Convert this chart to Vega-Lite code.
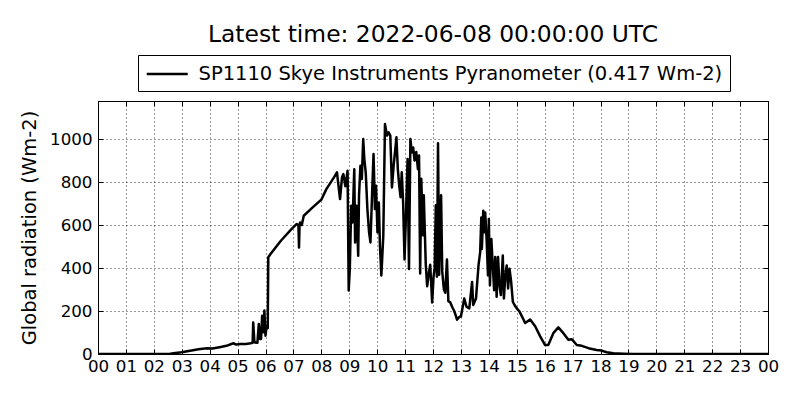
{
  "$schema": "https://vega.github.io/schema/vega-lite/v6.json",
  "autosize": "none",
  "width": 670,
  "height": 253,
  "padding": {"left": 98, "top": 101, "right": 32, "bottom": 46},
  "title": {"text": "Latest time: 2022-06-08 00:00:00 UTC", "fontSize": 23.4, "fontWeight": "normal", "font": "DejaVu Sans", "color": "black", "anchor": "middle", "baseline": "alphabetic", "offset": -11},
  "config": {
    "font": "DejaVu Sans",
    "view": {"stroke": "black", "strokeWidth": 1},
    "axis": {"labelFontSize": 16.7, "labelColor": "black", "titleFontSize": 19.5, "titleFontWeight": "normal", "titleColor": "black", "domainColor": "black", "tickColor": "black", "gridColor": "black", "gridDash": [1, 3], "gridWidth": 1, "gridOpacity": 0.8, "ticks": true, "tickSize": -5, "tickWidth": 1}
  },
  "data": {"values": [
    {"h": 0, "v": 0}, {"h": 1, "v": 0}, {"h": 2, "v": 0}, {"h": 2.55, "v": 0}, {"h": 2.7, "v": 3}, {"h": 3.0, "v": 8}, {"h": 3.3, "v": 15}, {"h": 3.6, "v": 22}, {"h": 3.9, "v": 27}, {"h": 4.1, "v": 26}, {"h": 4.4, "v": 33}, {"h": 4.6, "v": 38}, {"h": 4.85, "v": 50}, {"h": 4.95, "v": 44}, {"h": 5.1, "v": 46}, {"h": 5.3, "v": 47}, {"h": 5.47, "v": 50}, {"h": 5.54, "v": 52}, {"h": 5.56, "v": 147}, {"h": 5.6, "v": 60}, {"h": 5.62, "v": 54}, {"h": 5.71, "v": 52}, {"h": 5.76, "v": 140}, {"h": 5.8, "v": 70}, {"h": 5.84, "v": 70}, {"h": 5.88, "v": 178}, {"h": 5.92, "v": 101}, {"h": 5.96, "v": 202}, {"h": 6.0, "v": 85}, {"h": 6.04, "v": 132}, {"h": 6.08, "v": 120}, {"h": 6.1, "v": 450}, {"h": 6.18, "v": 465}, {"h": 6.55, "v": 527}, {"h": 6.93, "v": 581}, {"h": 7.12, "v": 605}, {"h": 7.18, "v": 600}, {"h": 7.2, "v": 496}, {"h": 7.22, "v": 600}, {"h": 7.24, "v": 612}, {"h": 7.3, "v": 600}, {"h": 7.37, "v": 643}, {"h": 7.69, "v": 682}, {"h": 8.0, "v": 718}, {"h": 8.18, "v": 767}, {"h": 8.47, "v": 825}, {"h": 8.56, "v": 845}, {"h": 8.67, "v": 721}, {"h": 8.74, "v": 822}, {"h": 8.79, "v": 837}, {"h": 8.86, "v": 780}, {"h": 8.94, "v": 853}, {"h": 8.98, "v": 295}, {"h": 9.02, "v": 395}, {"h": 9.07, "v": 690}, {"h": 9.12, "v": 612}, {"h": 9.16, "v": 783}, {"h": 9.18, "v": 860}, {"h": 9.21, "v": 519}, {"h": 9.26, "v": 690}, {"h": 9.32, "v": 457}, {"h": 9.35, "v": 736}, {"h": 9.4, "v": 876}, {"h": 9.45, "v": 814}, {"h": 9.5, "v": 1000}, {"h": 9.54, "v": 907}, {"h": 9.59, "v": 845}, {"h": 9.65, "v": 674}, {"h": 9.71, "v": 566}, {"h": 9.76, "v": 519}, {"h": 9.82, "v": 752}, {"h": 9.87, "v": 930}, {"h": 9.92, "v": 674}, {"h": 9.96, "v": 783}, {"h": 10.01, "v": 566}, {"h": 10.06, "v": 705}, {"h": 10.1, "v": 500}, {"h": 10.15, "v": 365}, {"h": 10.22, "v": 550}, {"h": 10.28, "v": 1070}, {"h": 10.35, "v": 1016}, {"h": 10.41, "v": 1031}, {"h": 10.47, "v": 1016}, {"h": 10.53, "v": 775}, {"h": 10.59, "v": 876}, {"h": 10.65, "v": 953}, {"h": 10.69, "v": 1008}, {"h": 10.74, "v": 860}, {"h": 10.79, "v": 783}, {"h": 10.84, "v": 729}, {"h": 10.88, "v": 845}, {"h": 10.93, "v": 705}, {"h": 10.98, "v": 440}, {"h": 11.02, "v": 597}, {"h": 11.09, "v": 907}, {"h": 11.14, "v": 395}, {"h": 11.19, "v": 1000}, {"h": 11.24, "v": 938}, {"h": 11.29, "v": 961}, {"h": 11.34, "v": 900}, {"h": 11.4, "v": 940}, {"h": 11.46, "v": 860}, {"h": 11.5, "v": 923}, {"h": 11.54, "v": 375}, {"h": 11.58, "v": 815}, {"h": 11.64, "v": 553}, {"h": 11.67, "v": 738}, {"h": 11.74, "v": 420}, {"h": 11.79, "v": 315}, {"h": 11.86, "v": 384}, {"h": 11.9, "v": 415}, {"h": 11.97, "v": 240}, {"h": 12.02, "v": 360}, {"h": 12.06, "v": 400}, {"h": 12.1, "v": 692}, {"h": 12.14, "v": 360}, {"h": 12.18, "v": 980}, {"h": 12.22, "v": 369}, {"h": 12.29, "v": 738}, {"h": 12.33, "v": 385}, {"h": 12.39, "v": 300}, {"h": 12.44, "v": 285}, {"h": 12.5, "v": 440}, {"h": 12.55, "v": 246}, {"h": 12.62, "v": 240}, {"h": 12.7, "v": 215}, {"h": 12.76, "v": 200}, {"h": 12.82, "v": 177}, {"h": 12.86, "v": 160}, {"h": 12.92, "v": 169}, {"h": 12.97, "v": 175}, {"h": 13.0, "v": 174}, {"h": 13.12, "v": 258}, {"h": 13.2, "v": 220}, {"h": 13.3, "v": 212}, {"h": 13.4, "v": 335}, {"h": 13.44, "v": 228}, {"h": 13.54, "v": 258}, {"h": 13.63, "v": 412}, {"h": 13.69, "v": 474}, {"h": 13.73, "v": 635}, {"h": 13.75, "v": 489}, {"h": 13.8, "v": 666}, {"h": 13.85, "v": 566}, {"h": 13.87, "v": 658}, {"h": 13.92, "v": 535}, {"h": 13.97, "v": 366}, {"h": 14.0, "v": 628}, {"h": 14.04, "v": 320}, {"h": 14.09, "v": 535}, {"h": 14.14, "v": 412}, {"h": 14.19, "v": 297}, {"h": 14.23, "v": 451}, {"h": 14.28, "v": 266}, {"h": 14.33, "v": 451}, {"h": 14.38, "v": 320}, {"h": 14.43, "v": 274}, {"h": 14.5, "v": 458}, {"h": 14.54, "v": 258}, {"h": 14.59, "v": 366}, {"h": 14.64, "v": 412}, {"h": 14.69, "v": 305}, {"h": 14.74, "v": 397}, {"h": 14.8, "v": 335}, {"h": 14.86, "v": 243}, {"h": 14.92, "v": 228}, {"h": 15.0, "v": 212}, {"h": 15.1, "v": 197}, {"h": 15.22, "v": 166}, {"h": 15.3, "v": 144}, {"h": 15.48, "v": 160}, {"h": 15.66, "v": 129}, {"h": 15.84, "v": 82}, {"h": 16.01, "v": 42}, {"h": 16.13, "v": 42}, {"h": 16.31, "v": 97}, {"h": 16.49, "v": 124}, {"h": 16.67, "v": 97}, {"h": 16.85, "v": 66}, {"h": 16.97, "v": 69}, {"h": 17.15, "v": 42}, {"h": 17.33, "v": 38}, {"h": 17.57, "v": 27}, {"h": 17.86, "v": 19}, {"h": 18.04, "v": 16}, {"h": 18.22, "v": 8}, {"h": 18.46, "v": 3}, {"h": 18.82, "v": 1}, {"h": 19.18, "v": 0}, {"h": 21, "v": 0}, {"h": 24, "v": 0}
  ]},
  "transform": [{"calculate": "'SP1110 Skye Instruments Pyranometer (0.417 Wm-2)'", "as": "series"}],
  "layer": [
    {
      "mark": {"type": "line", "color": "black", "strokeWidth": 2.5, "strokeJoin": "round", "clip": true},
      "encoding": {
        "x": {"field": "h", "type": "quantitative", "scale": {"domain": [0, 24], "nice": false, "zero": false},
          "axis": {"values": [0,1,2,3,4,5,6,7,8,9,10,11,12,13,14,15,16,17,18,19,20,21,22,23,24], "labelExpr": "(datum.value % 24 < 10 ? '0' : '') + (datum.value % 24)", "title": null, "grid": true, "labelPadding": 9, "labelFlush": false, "labelOverlap": false}},
        "y": {"field": "v", "type": "quantitative", "scale": {"domain": [0, 1177], "nice": false},
          "axis": {"values": [0,200,400,600,800,1000], "format": "d", "grid": true, "title": "Global radiation (Wm-2)", "labelPadding": 11, "titlePadding": 10.5}},
        "color": {"field": "series", "type": "nominal", "scale": {"range": ["black"]},
          "legend": {"title": null, "orient": "none", "legendX": 40, "legendY": -46, "symbolType": "M-1,0H3", "symbolSize": 420, "symbolStrokeWidth": 2.5, "labelFontSize": 19.5, "labelColor": "black", "labelOffset": 30, "labelLimit": 0, "strokeColor": "black", "fillColor": "white", "padding": 7.5, "cornerRadius": 0}}
      }
    },
    {
      "mark": {"type": "line", "opacity": 0, "clip": true},
      "encoding": {
        "x": {"field": "h", "type": "quantitative", "axis": {"orient": "top", "values": [0,1,2,3,4,5,6,7,8,9,10,11,12,13,14,15,16,17,18,19,20,21,22,23,24], "labels": false, "grid": false, "title": null, "domain": false}},
        "y": {"field": "v", "type": "quantitative", "axis": {"orient": "right", "values": [0,200,400,600,800,1000], "labels": false, "grid": false, "title": null, "domain": false}}
      }
    }
  ],
  "resolve": {"axis": {"x": "independent", "y": "independent"}}
}
